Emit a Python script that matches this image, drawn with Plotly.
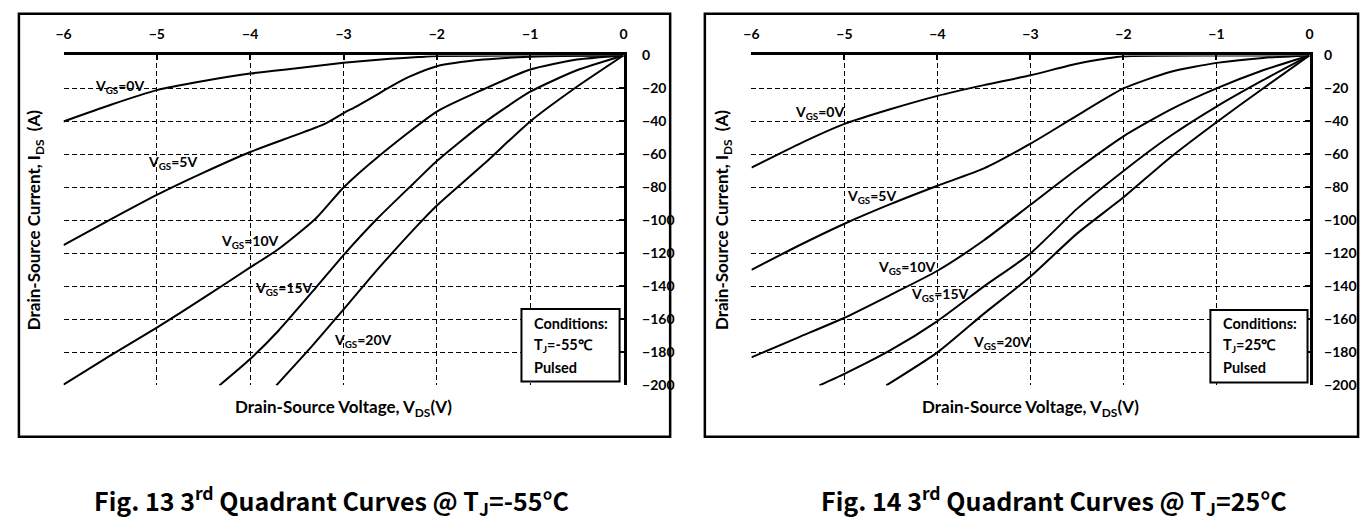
import plotly.graph_objects as go

W, H = 1371, 525

# ---------------- data ----------------
# Fig. 13, Tj = -55 C
L_vgs0_x = [-6, -5.5, -5, -4.5, -4, -3.5, -3, -2.5, -2.2, -2, -1, 0]
L_vgs0_y = [-40, -30, -21, -15.5, -11, -7.8, -4.5, -2, -1, -0.4, 0, 0]
L_vgs5_x = [-6, -5.5, -5, -4.5, -4, -3.5, -3.2, -3, -2.85, -2.65, -2.5, -2.3, -2, -1.5, -1, -0.5, 0]
L_vgs5_y = [-115, -99.5, -84.5, -71, -58.5, -48, -41.5, -35, -30.5, -24, -19, -13, -6.5, -2.5, -0.8, -0.2, 0]
L_vgs10_x = [-6, -5.5, -5, -4.5, -4, -3.7, -3.3, -3, -2.6, -2, -1.5, -1, -0.5, 0]
L_vgs10_y = [-199.5, -182, -165, -147, -128.5, -117.5, -99, -80, -60, -34, -20.5, -8.5, -2.5, 0]
L_vgs15_x = [-4.33, -4, -3.7, -3.3, -3, -2.64, -2.24, -2, -1.5, -1, -0.5, 0]
L_vgs15_y = [-200, -184, -167, -141, -121, -99, -77, -64, -41, -22, -9, 0]
L_vgs20_x = [-3.72, -3.35, -3, -2.64, -2.24, -2, -1.5, -1, -0.5, 0]
L_vgs20_y = [-200, -177, -154, -130, -105, -91, -66, -40, -19, 0]

# Fig. 14, Tj = 25 C
R_vgs0_x = [-6, -5.5, -5, -4.5, -4, -3.5, -3, -2.5, -2.2, -2, -1, 0]
R_vgs0_y = [-68, -54, -41.5, -32.5, -24.5, -18, -12, -5, -2, -0.5, 0, 0]
R_vgs5_x = [-6, -5.5, -5, -4.5, -4, -3.5, -3, -2.5, -2, -1.5, -1, -0.5, 0]
R_vgs5_y = [-130, -115.5, -102, -90, -79, -68.5, -53.5, -36.5, -20, -10, -4.5, -1.5, 0]
R_vgs10_x = [-6, -5.5, -5, -4.5, -4, -3.5, -3, -2.5, -2, -1.5, -1, -0.5, 0]
R_vgs10_y = [-183, -171, -159, -145, -130.5, -112, -90.5, -69, -49, -33, -20, -9, 0]
R_vgs15_x = [-5.27, -5, -4.5, -4, -3.5, -3, -2.5, -2, -1.5, -1, -0.5, 0]
R_vgs15_y = [-200, -193, -178.5, -161, -140, -120, -93, -70, -49, -31, -15, 0]
R_vgs20_x = [-4.55, -4, -3.5, -3, -2.5, -2, -1.5, -1, -0.5, 0]
R_vgs20_y = [-200, -180, -156.5, -134, -108, -86, -62, -40.5, -20, 0]

x_ticks = [-6, -5, -4, -3, -2, -1, 0]
y_ticks = [0, -20, -40, -60, -80, -100, -120, -140, -160, -180, -200]

curve_labels = ["V<sub>GS</sub>=0V", "V<sub>GS</sub>=5V", "V<sub>GS</sub>=10V",
                "V<sub>GS</sub>=15V", "V<sub>GS</sub>=20V"]
L_label_x = [-5.4, -4.83, -4.0, -3.64, -2.79]
L_label_y = [-19, -65, -113, -141, -173]
R_label_x = [-5.27, -4.71, -4.33, -3.97, -3.31]
R_label_y = [-34.5, -85.5, -128.5, -145, -174]

captions = ["Fig. 13 3<sup>rd</sup> Quadrant Curves @ T<sub>J</sub>=-55°C",
            "Fig. 14 3<sup>rd</sup> Quadrant Curves @ T<sub>J</sub>=25°C"]
cond_text = [["Conditions:", "T<sub>J</sub>=-55℃", "Pulsed"],
             ["Conditions:", "T<sub>J</sub>=25℃", "Pulsed"]]

# ---------------- helpers: page pixel -> paper fraction ----------------
def px(x):
    return x / W

def py(y):
    return 1 - y / H

FONT = "Lato"
fig = go.Figure()

L_curves = [(L_vgs0_x, L_vgs0_y), (L_vgs5_x, L_vgs5_y), (L_vgs10_x, L_vgs10_y),
            (L_vgs15_x, L_vgs15_y), (L_vgs20_x, L_vgs20_y)]
R_curves = [(R_vgs0_x, R_vgs0_y), (R_vgs5_x, R_vgs5_y), (R_vgs10_x, R_vgs10_y),
            (R_vgs15_x, R_vgs15_y), (R_vgs20_x, R_vgs20_y)]

for (xs, ys) in L_curves:
    fig.add_trace(go.Scatter(x=xs, y=ys, mode="lines", xaxis="x", yaxis="y",
                             line=dict(color="black", width=2, shape="spline", smoothing=0.6),
                             showlegend=False, hoverinfo="skip"))
for (xs, ys) in R_curves:
    fig.add_trace(go.Scatter(x=xs, y=ys, mode="lines", xaxis="x2", yaxis="y2",
                             line=dict(color="black", width=2, shape="spline", smoothing=0.6),
                             showlegend=False, hoverinfo="skip"))

panels = [
    dict(x0=56, x1=621, y0=48, y1=389, frame=(11, 5, 668, 442), xa="x", ya="y",
         ytitle_x=28, box=(518, 310, 617, 385), text_x=529),
    dict(x0=750, x1=1313, y0=48, y1=389, frame=(703, 5, 1362, 442), xa="x2", ya="y2",
         ytitle_x=722, box=(1213, 311, 1311, 386), text_x=1224),
]

axis_font = dict(family=FONT, size=14, color="black", weight="bold")
common_x = dict(range=[-6, 0], autorange=False, tickvals=x_ticks, side="top",
                showgrid=True, gridcolor="black", gridwidth=1.2, griddash="5px,3px",
                showline=True, linecolor="black", linewidth=2.5,
                ticks="inside", ticklen=5, tickwidth=2, tickcolor="black",
                ticklabelstandoff=8, tickfont=axis_font, zeroline=False, fixedrange=True)
common_y = dict(range=[-200, 0], autorange=False, tickvals=y_ticks, side="right",
                showgrid=True, gridcolor="black", gridwidth=1.2, griddash="5px,3px",
                showline=True, linecolor="black", linewidth=2.5,
                ticks="inside", ticklen=5, tickwidth=2, tickcolor="black",
                tickfont=axis_font, zeroline=False, fixedrange=True)

layout = dict(
    width=W, height=H, margin=dict(l=0, r=0, t=0, b=0),
    paper_bgcolor="white", plot_bgcolor="white", showlegend=False,
    xaxis=dict(common_x, domain=[px(56), px(621)], anchor="y"),
    yaxis=dict(common_y, domain=[py(389), py(48)], anchor="x", ticklabelstandoff=13),
    xaxis2=dict(common_x, domain=[px(750), px(1313)], anchor="y2"),
    yaxis2=dict(common_y, domain=[py(389), py(48)], anchor="x2", ticklabelstandoff=9),
)
fig.update_layout(**layout)

shapes = []
annotations = []
label_font = dict(family=FONT, size=14, color="black", weight="bold")
title_font = dict(family=FONT, size=17, color="black", weight="bold")
for i, p in enumerate(panels):
    fx0, fy0, fx1, fy1 = p["frame"]
    shapes.append(dict(type="rect", xref="paper", yref="paper",
                       x0=px(fx0), x1=px(fx1), y0=py(fy1), y1=py(fy0),
                       line=dict(color="black", width=2.5), fillcolor="rgba(0,0,0,0)"))
    bx0, by0, bx1, by1 = p["box"]
    shapes.append(dict(type="rect", xref="paper", yref="paper",
                       x0=px(bx0), x1=px(bx1), y0=py(by1), y1=py(by0),
                       line=dict(color="black", width=2), fillcolor="white", layer="above"))
    for j, t in enumerate(cond_text[i]):
        annotations.append(dict(xref="paper", yref="paper", x=px(p["text_x"]),
                                y=py(325 + 23 * j), xanchor="left", yanchor="middle",
                                text=t, showarrow=False,
                                font=dict(family=FONT, size=14.5, color="black", weight="bold")))
    annotations.append(dict(xref="paper", yref="paper", x=px(p["ytitle_x"]),
                            y=py((p["y0"] + p["y1"]) / 2), textangle=-90,
                            text="Drain-Source Current, I<sub>DS</sub>  (A)", showarrow=False,
                            xanchor="center", yanchor="middle", font=title_font))
    annotations.append(dict(xref="paper", yref="paper", x=px((p["x0"] + p["x1"]) / 2),
                            y=py(412), text="Drain-Source Voltage, V<sub>DS</sub>(V)",
                            showarrow=False, xanchor="center", yanchor="middle",
                            font=title_font))
    lx = L_label_x if i == 0 else R_label_x
    ly = L_label_y if i == 0 else R_label_y
    for k in range(5):
        annotations.append(dict(xref=p["xa"], yref=p["ya"], x=lx[k], y=ly[k],
                                text=curve_labels[k], showarrow=False,
                                xanchor="center", yanchor="middle", font=label_font))

cap_font = dict(family="Noto Sans CJK SC", size=25, color="black", weight="bold")
annotations.append(dict(xref="paper", yref="paper", x=px(326), y=py(508),
                        text=captions[0], showarrow=False, xanchor="center", yanchor="middle",
                        font=cap_font))
annotations.append(dict(xref="paper", yref="paper", x=px(1055), y=py(508),
                        text=captions[1], showarrow=False, xanchor="center", yanchor="middle",
                        font=cap_font))

fig.update_layout(shapes=shapes, annotations=annotations)
fig.write_html("out.html")
